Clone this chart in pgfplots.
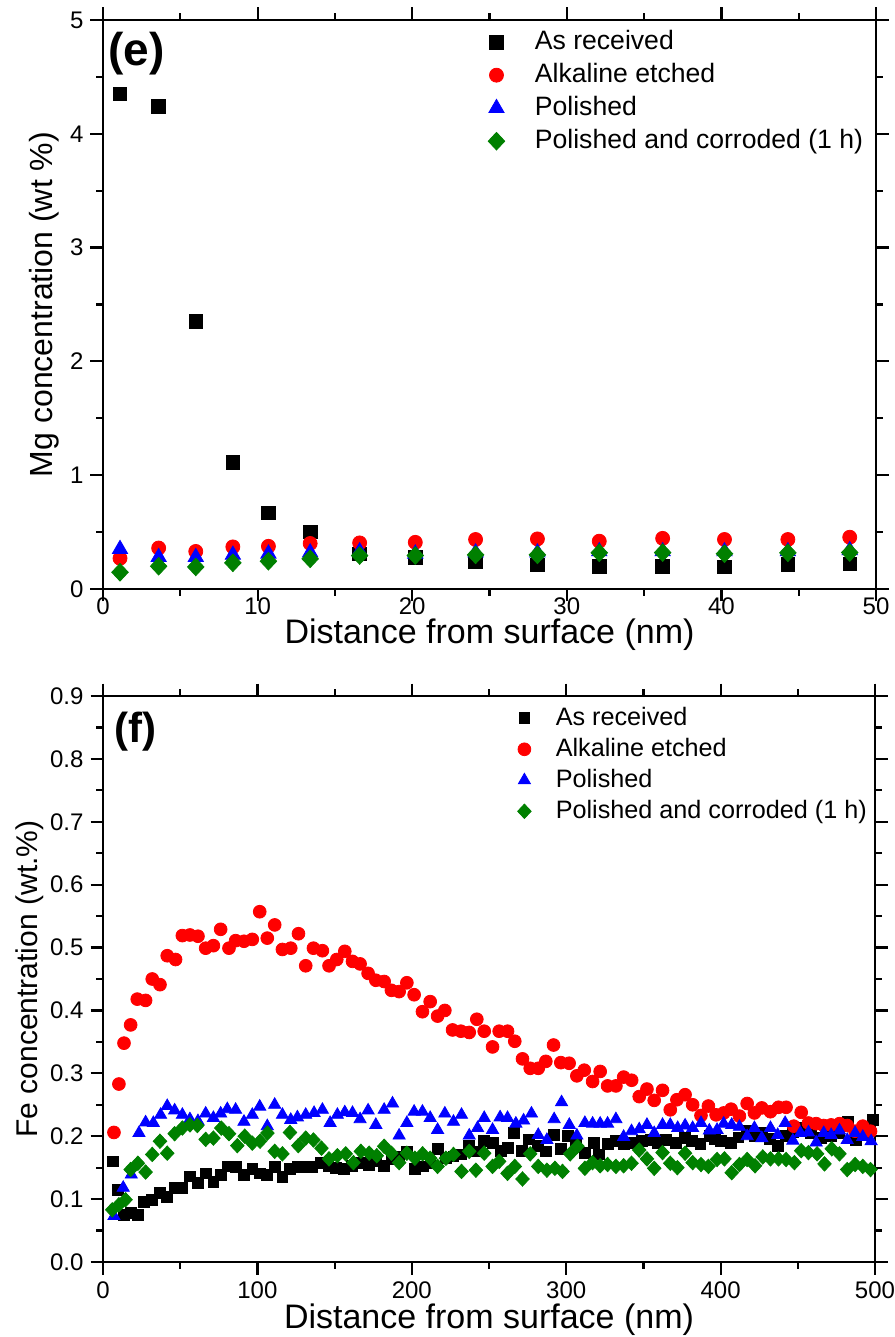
\documentclass[border=0pt]{standalone}
\usepackage{fontspec}
\setmainfont{Liberation Sans}
\usepackage{pgfplots}
\usepackage{pgfplotstable}
\pgfplotsset{compat=1.18}
\definecolor{ogreen}{RGB}{0,128,0}

% ---------- panel (e): Mg ----------
\pgfplotstableread{
x y
1.1 4.35
3.6 4.24
6.0 2.35
8.4 1.11
10.7 0.67
13.4 0.50
16.6 0.31
20.2 0.28
24.1 0.24
28.1 0.21
32.1 0.20
36.2 0.20
40.2 0.195
44.3 0.215
48.3 0.22
}\MgA
\pgfplotstableread{
x y
1.1 0.27
3.6 0.36
6.0 0.33
8.4 0.37
10.7 0.375
13.4 0.40
16.6 0.405
20.2 0.41
24.1 0.435
28.1 0.44
32.1 0.42
36.2 0.445
40.2 0.435
44.3 0.435
48.3 0.455
}\MgB
\pgfplotstableread{
x y
1.1 0.35
3.6 0.28
6.0 0.28
8.4 0.30
10.7 0.31
13.4 0.32
16.6 0.33
20.2 0.31
24.1 0.32
28.1 0.32
32.1 0.33
36.2 0.33
40.2 0.33
44.3 0.33
48.3 0.34
}\MgC
\pgfplotstableread{
x y
1.1 0.147
3.6 0.20
6.0 0.194
8.4 0.23
10.7 0.244
13.4 0.265
16.6 0.294
20.2 0.294
24.1 0.30
28.1 0.30
32.1 0.318
36.2 0.32
40.2 0.31
44.3 0.318
48.3 0.32
}\MgD

% ---------- panel (f): Fe ----------
\pgfplotstableread{
x y
6.5 0.160
9.5 0.115
13.6 0.075
17.9 0.078
22.6 0.075
26.5 0.096
31.9 0.099
36.9 0.110
41.6 0.104
46.4 0.118
51.4 0.118
56.3 0.136
61.5 0.126
66.5 0.141
71.5 0.128
76.2 0.139
81.0 0.152
85.9 0.151
91.3 0.139
96.7 0.148
101.7 0.141
106.4 0.139
111.2 0.151
116.2 0.135
121.1 0.148
125.9 0.151
130.8 0.151
135.6 0.151
141.0 0.158
146.0 0.152
151.0 0.150
156.2 0.148
161.0 0.153
167.0 0.158
172.0 0.155
177.0 0.160
182.0 0.153
187.0 0.163
192.0 0.168
197.0 0.176
202.0 0.148
207.0 0.152
212.0 0.157
217.0 0.180
222.0 0.165
227.0 0.168
232.0 0.171
237.0 0.184
242.0 0.176
246.9 0.192
252.3 0.189
257.7 0.177
262.4 0.181
266.3 0.205
271.1 0.177
276.0 0.195
281.5 0.185
286.8 0.176
291.8 0.202
296.5 0.180
301.3 0.201
306.5 0.186
312.1 0.174
317.7 0.190
321.4 0.171
326.8 0.188
332.2 0.192
337.5 0.187
344.0 0.189
349.0 0.193
354.9 0.194
359.5 0.190
364.6 0.194
371.0 0.189
377.0 0.197
381.5 0.192
386.9 0.188
392.7 0.201
396.5 0.195
400.3 0.192
406.8 0.190
411.5 0.198
417.2 0.208
422.0 0.200
426.7 0.205
432.0 0.196
437.0 0.184
442.4 0.201
447.0 0.206
452.2 0.213
458.6 0.205
465.1 0.197
471.6 0.200
477.0 0.205
482.4 0.223
487.8 0.194
493.2 0.205
498.6 0.226
}\FeA
\pgfplotstableread{
x y
7.1 0.206
10.3 0.283
13.6 0.348
17.9 0.377
22.2 0.418
27.6 0.416
31.9 0.450
36.9 0.441
41.6 0.487
47.0 0.481
51.4 0.519
56.3 0.520
61.5 0.518
66.5 0.499
71.5 0.503
76.2 0.529
81.6 0.499
85.9 0.511
91.3 0.510
96.7 0.513
101.5 0.557
106.4 0.515
111.2 0.536
116.2 0.497
121.6 0.499
126.6 0.522
131.3 0.471
136.3 0.499
142.1 0.495
146.4 0.471
151.4 0.481
156.6 0.494
161.6 0.478
166.5 0.474
171.7 0.459
176.7 0.448
182.1 0.446
186.8 0.432
191.8 0.430
196.8 0.444
201.5 0.425
206.9 0.398
211.9 0.414
216.7 0.391
221.4 0.400
226.4 0.369
231.8 0.367
237.2 0.365
242.1 0.386
246.9 0.367
252.3 0.342
256.6 0.367
262.0 0.367
266.7 0.351
271.7 0.323
276.7 0.308
281.9 0.308
286.8 0.319
291.8 0.345
296.5 0.317
301.9 0.316
306.9 0.296
311.7 0.305
317.1 0.287
322.0 0.303
326.8 0.280
332.2 0.280
337.2 0.294
342.4 0.289
347.3 0.263
352.3 0.275
357.0 0.257
362.4 0.273
367.4 0.242
371.7 0.258
377.0 0.266
381.9 0.250
387.3 0.233
392.1 0.248
397.1 0.234
402.0 0.237
406.8 0.243
412.2 0.232
417.2 0.252
421.9 0.237
426.7 0.245
432.3 0.239
437.5 0.246
442.4 0.246
447.4 0.216
452.2 0.238
456.9 0.221
461.9 0.220
466.8 0.217
471.6 0.218
477.0 0.220
482.0 0.217
487.1 0.208
492.1 0.216
497.1 0.208
}\FeB
\pgfplotstableread{
x y
7.1 0.073
13.1 0.118
18.3 0.139
23.3 0.205
27.6 0.222
32.6 0.221
37.3 0.234
41.6 0.248
46.4 0.241
51.4 0.234
56.3 0.227
61.5 0.224
66.5 0.236
71.5 0.229
76.2 0.236
80.5 0.243
85.9 0.242
91.3 0.223
96.7 0.234
101.5 0.247
106.4 0.216
111.2 0.250
116.2 0.234
121.6 0.226
125.9 0.230
131.3 0.234
136.7 0.237
142.1 0.242
147.1 0.221
151.8 0.234
156.6 0.238
161.6 0.237
166.5 0.227
171.7 0.241
176.7 0.218
182.1 0.242
187.5 0.252
191.8 0.201
196.8 0.221
201.5 0.239
206.9 0.239
211.9 0.229
216.7 0.210
221.4 0.236
227.0 0.223
232.2 0.234
237.2 0.201
242.6 0.213
246.9 0.229
252.3 0.210
257.2 0.230
262.0 0.229
267.4 0.220
272.4 0.225
277.5 0.236
281.9 0.202
287.5 0.194
292.2 0.227
297.0 0.254
302.0 0.218
306.9 0.201
312.1 0.221
317.1 0.220
322.0 0.220
326.8 0.220
332.2 0.227
337.2 0.199
342.3 0.208
347.3 0.211
352.3 0.218
357.0 0.205
362.4 0.218
367.4 0.218
372.2 0.213
377.0 0.217
381.9 0.213
387.3 0.221
392.7 0.209
397.7 0.210
402.0 0.220
407.2 0.218
412.2 0.215
417.2 0.200
421.9 0.213
426.7 0.197
432.3 0.213
437.0 0.202
441.8 0.221
446.8 0.193
451.7 0.205
456.9 0.206
461.9 0.190
466.8 0.205
471.6 0.202
477.0 0.209
482.0 0.194
487.1 0.205
492.1 0.199
497.5 0.192
}\FeC
\pgfplotstableread{
x y
6.0 0.083
10.3 0.091
14.6 0.099
17.9 0.147
22.6 0.157
27.6 0.143
31.9 0.171
36.9 0.192
41.6 0.173
46.4 0.204
51.4 0.213
56.3 0.218
61.1 0.217
66.5 0.195
71.5 0.197
76.6 0.213
81.6 0.204
87.0 0.185
91.8 0.200
96.7 0.189
101.7 0.192
106.5 0.205
111.2 0.176
116.2 0.172
121.1 0.206
126.5 0.185
131.3 0.197
136.3 0.194
141.5 0.181
146.4 0.164
151.8 0.169
157.2 0.172
162.2 0.158
167.0 0.176
172.4 0.173
177.3 0.169
182.1 0.184
186.8 0.173
191.8 0.158
196.8 0.173
202.0 0.165
207.0 0.172
211.9 0.165
216.7 0.152
222.1 0.165
227.0 0.171
232.2 0.144
237.2 0.176
241.5 0.146
246.9 0.173
252.3 0.152
256.6 0.160
262.0 0.141
266.7 0.152
271.7 0.132
276.7 0.172
281.9 0.152
287.5 0.146
292.7 0.149
297.6 0.144
302.6 0.172
307.3 0.184
312.1 0.149
317.1 0.158
322.0 0.153
326.8 0.155
332.2 0.152
337.2 0.153
342.3 0.157
347.3 0.178
352.3 0.164
357.0 0.149
362.4 0.174
367.4 0.157
372.0 0.150
377.0 0.173
381.9 0.158
387.3 0.155
392.1 0.152
397.7 0.163
402.5 0.164
407.2 0.142
412.2 0.155
417.2 0.163
422.3 0.153
427.3 0.167
432.3 0.164
437.5 0.164
442.4 0.163
447.8 0.158
452.2 0.177
456.9 0.174
462.5 0.172
467.3 0.156
472.0 0.180
477.0 0.172
482.0 0.147
487.1 0.155
492.1 0.152
497.1 0.147
}\FeD

\pgfplotsset{
  oaxis/.style={
    scale only axis,
    anchor=south west,
    axis line style={line width=1.1pt},
    tick style={line width=1.1pt, black},
    tick align=outside,
    xtick pos=both, ytick pos=both,
    xticklabel pos=lower, yticklabel pos=left,
    major tick length=6.25pt, minor tick length=3.3pt,
    minor x tick num=1, minor y tick num=1,
    /pgf/number format/assume math mode=true,
    tick label style={font=\fontsize{12}{14}\selectfont},
    legend cell align=left,
  },
}

\begin{document}
\begin{tikzpicture}[x=1pt,y=1pt]
\path[use as bounding box] (0,0) rectangle (447,668.5);

% ===== Top panel (e) =====
\begin{axis}[oaxis,
  at={(51.5pt,374pt)}, width=386.5pt, height=284.5pt,
  xmin=0, xmax=50, ymin=0, ymax=5,
  xtick={0,10,20,30,40,50}, ytick={0,1,2,3,4,5},
  xticklabel style={yshift=5.5pt},
  xlabel={Distance from surface (nm)},
  ylabel={Mg concentration (wt \%)},
  xlabel style={font=\fontsize{17}{20}\selectfont, at={(axis description cs:0.5,-0.080)}, anchor=center},
  ylabel style={font=\fontsize{16}{19}\selectfont, at={(axis description cs:-0.076,0.5)}, anchor=center, rotate=0},
  legend style={draw=none, fill=none, inner sep=0pt, outer sep=0pt,
    at={(0.493,0.990)}, anchor=north west, column sep=0pt, row sep=0pt,
    font=\fontsize{13.3}{15}\selectfont,
    nodes={inner sep=0pt, text height=12pt, text depth=4.5pt}},
  legend image code/.code={\path (-6pt,0pt) (19pt,0pt); \draw[#1] plot coordinates {(0pt,0pt)};},
]
\addplot[only marks, mark=square*, mark size=3.4pt, color=black] table[x=x,y=y]{\MgA};
\addlegendentry{As received}
\addplot[only marks, mark=*, mark size=3.5pt, color=red] table[x=x,y=y]{\MgB};
\addlegendentry{Alkaline etched}
\addplot[only marks, mark=triangle*, mark size=4.4pt, color=blue] table[x=x,y=y]{\MgC};
\addlegendentry{Polished}
\addplot[only marks, mark=diamond*, mark size=4.4pt, color=ogreen, mark options={xscale=1.25}] table[x=x,y=y]{\MgD};
\addlegendentry{Polished and corroded (1 h)}
\node[anchor=north west, inner sep=0pt, font=\bfseries\fontsize{23}{27}\selectfont] at (rel axis cs:0.0065,0.98) {(e)};
\end{axis}

% ===== Bottom panel (f) =====
\begin{axis}[oaxis,
  at={(51.5pt,37.5pt)}, width=386pt, height=283pt,
  xmin=0, xmax=500, ymin=0, ymax=0.9,
  xtick={0,100,200,300,400,500}, ytick={0,0.1,...,0.9},
  yticklabel style={/pgf/number format/fixed, /pgf/number format/fixed zerofill, /pgf/number format/precision=1},
  xlabel={Distance from surface (nm)},
  ylabel={Fe concentration (wt.\%)},
  xlabel style={font=\fontsize{17}{20}\selectfont, at={(axis description cs:0.5,-0.1025)}, anchor=center},
  ylabel style={font=\fontsize{15}{18}\selectfont, at={(axis description cs:-0.0945,0.5)}, anchor=center, rotate=0},
  legend style={draw=none, fill=none, inner sep=0pt, outer sep=0pt,
    at={(0.5298,0.988)}, anchor=north west, column sep=0pt, row sep=0pt,
    font=\fontsize{12.6}{15}\selectfont,
    nodes={inner sep=0pt, text height=11.2pt, text depth=4.3pt}},
  legend image code/.code={\path (-6pt,0pt) (15.5pt,0pt); \draw[#1] plot coordinates {(0pt,0pt)};},
]
\addplot[only marks, mark=square*, mark size=2.7pt, color=black] table[x=x,y=y]{\FeA};
\addlegendentry{As received}
\addplot[only marks, mark=*, mark size=3.2pt, color=red] table[x=x,y=y]{\FeB};
\addlegendentry{Alkaline etched}
\addplot[only marks, mark=triangle*, mark size=3.5pt, color=blue] table[x=x,y=y]{\FeC};
\addlegendentry{Polished}
\addplot[only marks, mark=diamond*, mark size=3.6pt, color=ogreen, mark options={xscale=1.25}] table[x=x,y=y]{\FeD};
\addlegendentry{Polished and corroded (1 h)}
\node[anchor=north west, inner sep=0pt, font=\bfseries\fontsize{21}{25}\selectfont] at (rel axis cs:0.014,0.972) {(f)};
\end{axis}
\end{tikzpicture}
\end{document}
